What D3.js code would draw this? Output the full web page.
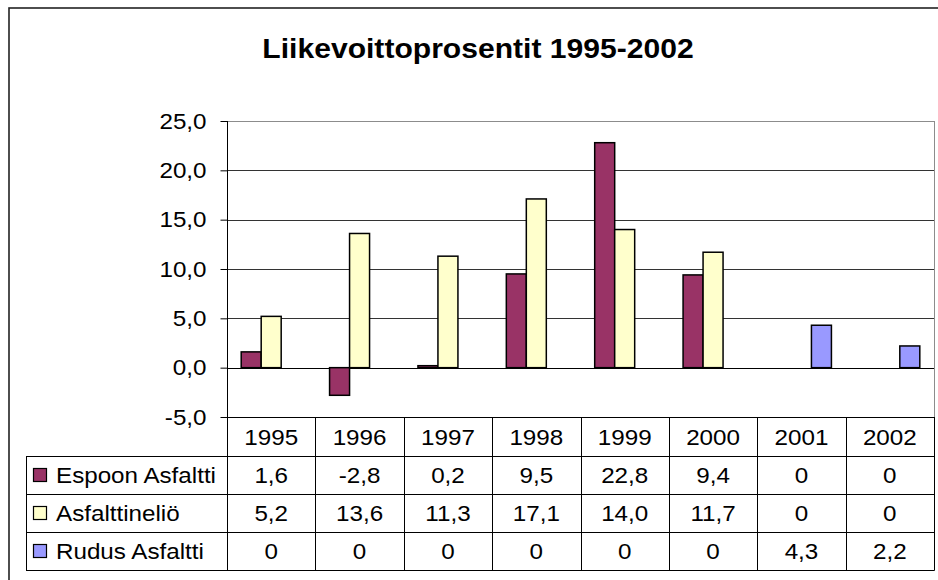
<!DOCTYPE html>
<html><head><meta charset="utf-8">
<script src="https://cdn.jsdelivr.net/npm/d3@7"></script>
<style>body{margin:0;background:#fff} svg{display:block} text{font-family:"Liberation Sans",Arial,sans-serif;fill:#000}</style>
</head><body><svg id="c" width="938" height="580"></svg>
<script>
const title = "Liikevoittoprosentit 1995-2002";
const years = ["1995","1996","1997","1998","1999","2000","2001","2002"];
const seriesNames = ["Espoon Asfaltti","Asfalttineliö","Rudus Asfaltti"];
const espoon = [1.6,-2.8,0.2,9.5,22.8,9.4,0,0];
const asfalttinelio = [5.2,13.6,11.3,17.1,14.0,11.7,0,0];
const rudus = [0,0,0,0,0,0,4.3,2.2];
const yTicks = [-5,0,5,10,15,20,25];
const colors = ["#993366","#FFFFCC","#9999FF"];

const seriesValues = [espoon, asfalttinelio, rudus];
const svg = d3.select("#c");
const L = 227, R = 934, T = 121, B = 417;
const rowH = 38, headH = 39, tableL = 26;
const SX = 1.1; // horizontal stretch of the original text rendering
const fmtTick = d => d.toFixed(1).replace(".", ",");
const fmtCell = d => d === 0 ? "0" : d.toFixed(1).replace(".", ",");
const stretched = (sel, px, py) => sel.attr("x",0).attr("y",0)
  .attr("transform",`translate(${px},${py}) scale(${SX},1)`);

// outer frame
svg.append("rect").attr("x",9).attr("y",8).attr("width",940).attr("height",590)
  .attr("fill","#fff").attr("stroke","#222").attr("stroke-width",1.6);

// title
svg.append("text").attr("text-anchor","middle").attr("font-size",28).attr("font-weight","bold")
  .text(title).attr("x",0).attr("y",0).attr("transform","translate(478,58) scale(1.075,1)");

const x = d3.scaleBand().domain(years).range([L,R]);
const xs = d3.scaleBand().domain(seriesNames).range([0,x.bandwidth()]).paddingOuter(0.71);
const y = d3.scaleLinear().domain([-5,25]).range([B,T]);

// gridlines
svg.append("g").selectAll("line").data(yTicks.filter(t => t > -5)).join("line")
  .attr("x1",L).attr("x2",R).attr("y1",d=>Math.round(y(d))+0.5).attr("y2",d=>Math.round(y(d))+0.5)
  .attr("stroke",d => d===25 ? "#8c8c8c" : (d===0 ? "#000" : "#333")).attr("stroke-width",1);
// plot right border
svg.append("line").attr("x1",R+0.5).attr("x2",R+0.5).attr("y1",T).attr("y2",B).attr("stroke","#8c8c8c");

// bars
const bars = [];
seriesValues.forEach((vals,si) => vals.forEach((v,i) => { if (v !== 0) bars.push({s:seriesNames[si], si, year:years[i], v}); }));
svg.append("g").selectAll("rect").data(bars).join("rect")
  .attr("x", d => x(d.year) + xs(d.s))
  .attr("width", xs.bandwidth())
  .attr("y", d => y(Math.max(0,d.v)))
  .attr("height", d => Math.abs(y(d.v) - y(0)))
  .attr("fill", d => colors[d.si]).attr("stroke","#000").attr("stroke-width",1.5);

// y axis
const yAxis = d3.axisLeft(y).tickValues(yTicks).tickFormat(fmtTick).tickSize(7).tickPadding(12);
const ga = svg.append("g").attr("transform",`translate(${L+0.5},0)`).call(yAxis);
ga.select(".domain").remove();
ga.selectAll(".tick line").attr("stroke","#000");
ga.selectAll("text").attr("font-size",22).attr("font-family","Liberation Sans, Arial, sans-serif").attr("fill","#000")
  .attr("x",-21/SX).attr("transform",`scale(${SX},1)`);

// data table
const tb = svg.append("g");
const rowsTop = B + headH;
const tableBottom = rowsTop + 3*rowH;
tb.append("line").attr("x1",L).attr("x2",R+0.5).attr("y1",B+0.5).attr("y2",B+0.5).attr("stroke","#000");
[0,1,2,3].forEach(k => {
  tb.append("line").attr("x1",tableL).attr("x2",R+0.5)
    .attr("y1",rowsTop+k*rowH+0.5).attr("y2",rowsTop+k*rowH+0.5).attr("stroke","#000");
});
tb.append("line").attr("x1",tableL+0.5).attr("x2",tableL+0.5).attr("y1",rowsTop).attr("y2",tableBottom+0.5).attr("stroke","#000");
tb.append("line").attr("x1",L+0.5).attr("x2",L+0.5).attr("y1",T).attr("y2",tableBottom+0.5).attr("stroke","#000");
tb.selectAll("line.col").data(years).join("line").attr("class","col")
  .attr("x1",d=>Math.round(x(d)+x.bandwidth())+0.5).attr("x2",d=>Math.round(x(d)+x.bandwidth())+0.5)
  .attr("y1",B).attr("y2",tableBottom+0.5).attr("stroke","#000");

// header labels
tb.selectAll("text.yr").data(years).join("text").attr("class","yr")
  .attr("text-anchor","middle").attr("font-size",22).text(d=>d)
  .each(function(d){ stretched(d3.select(this), x(d)+x.bandwidth()/2, B+headH/2+8); });

// rows
seriesNames.forEach((name,si) => {
  const cy = rowsTop + si*rowH + rowH/2;
  tb.append("rect").attr("x",33.5).attr("y",cy-6.5).attr("width",13).attr("height",13)
    .attr("fill",colors[si]).attr("stroke","#000").attr("stroke-width",1.2);
  stretched(tb.append("text").attr("font-size",22).text(name), 56, cy+8);
  tb.selectAll(null).data(seriesValues[si]).join("text")
    .attr("text-anchor","middle").attr("font-size",22).text(fmtCell)
    .each(function(d,i){ stretched(d3.select(this), x(years[i])+x.bandwidth()/2, cy+8); });
});
</script></body></html>
